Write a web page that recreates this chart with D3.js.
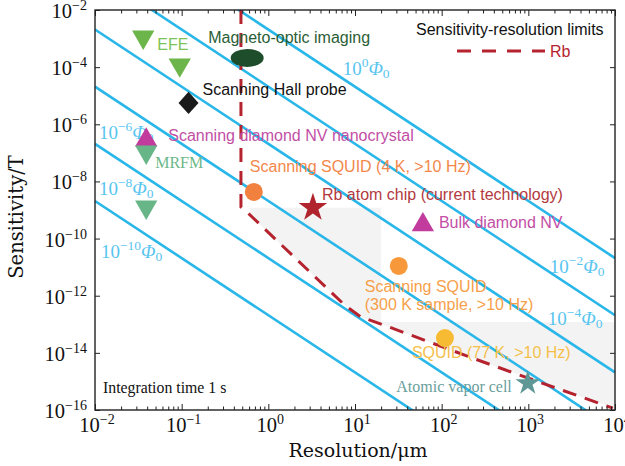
<!DOCTYPE html>
<html>
<head>
<meta charset="utf-8">
<script src="https://cdn.jsdelivr.net/npm/d3@7"></script>
<style>
body { margin: 0; background: #fff; }
</style>
</head>
<body>
<div id="chart"></div>
<script>
// ---- data ----
var xExps = [-2, -1, 0, 1, 2, 3, 4];
var yExps = [-2, -4, -6, -8, -10, -12, -14, -16];
var fluxExps = [0, -2, -4, -6, -8, -10];
var phi0 = 2.07e-3; // flux quantum in T*um^2

// where the flux labels sit (resolution, sensitivity)
var fluxLabelR = [7.2, 1770, 1680, 0.0111, 0.0111, 0.0117];
var fluxLabelB = [5.3e-5, 6.3e-12, 9.3e-14, 3.1e-7, 3.35e-9, 2.1e-11];

// Rb sensitivity-resolution limit
var rbR = [0.483, 0.483, 0.614, 7.6, 11.7, 21.5, 242, 2075, 9440];
var rbB = [1e-2, 1.27e-9, 6.7e-10, 4.7e-13, 1.8e-13, 9.4e-14, 6.1e-15, 5.9e-16, 1.17e-16];

// upper edge of the grey region
var shadeR = [0.61, 20, 20, 1e4, 1e4];
var shadeB = [1.2e-9, 1.2e-9, 1.2e-13, 1.2e-13, 1.05e-16];

// techniques
var techR = [0.036, 0.095, 0.57, 0.12, 0.039, 0.039, 0.039, 0.68, 3.27, 60.7, 32, 109, 986];
var techB = [1.13e-3, 1.2e-4, 2.1e-4, 5.6e-6, 2.8e-7, 1.07e-7, 1.27e-9, 4.3e-9, 1.2e-9, 3e-10, 1.1e-11, 3.3e-14, 8.7e-16];
var techShape = ["down", "down", "ellipse", "diamond", "up", "down", "down", "circle", "star", "up", "circle", "circle", "star"];
var techColor = ["#6cb54a", "#6cb54a", "#1e4d2b", "#1a1a1a", "#c13c9c", "#68b688", "#68b688",
                 "#f28140", "#b0242d", "#c13c9c", "#f7993b", "#f7bb33", "#5e9796"];

var labelText = ["EFE", "Magneto-optic imaging", "Scanning Hall probe", "Scanning diamond NV nanocrystal",
                 "MRFM", "Scanning SQUID (4 K, >10 Hz)", "Rb atom chip (current technology)", "Bulk diamond NV",
                 "Scanning SQUID", "(300 K sample, >10 Hz)", "SQUID (77 K, >10 Hz)", "Atomic vapor cell"];
var labelOf = [0, 2, 3, 4, 5, 7, 8, 9, 10, 10, 11, 12];   // which marker the label hangs from
var labelDx = [14, -39, 14, 22, 9, -4, 9, 16, -34, -34, -33, -16];
var labelDy = [13, -15, -8, 1, 16, -20, -8, 3, 26, 44, 20, 9];
var labelColor = ["#7cc257", "#2b5e36", "#111", "#c24fa5", "#6cb88a", "#f3884b", "#b23a3f", "#c24fa5",
                  "#f69f4a", "#f69f4a", "#f5c04a", "#6a9e9c"];
var labelSerif = [0, 0, 0, 0, 1, 0, 0, 0, 0, 0, 0, 1];

// ---- chart ----
var width = 625, height = 466;
var plotL = 95, plotR = 615, plotT = 10, plotB = 410;

var svg = d3.select("#chart").append("svg")
    .attr("width", width)
    .attr("height", height);

var x = d3.scaleLog().domain([1e-2, 1e4]).range([plotL, plotR]);
var y = d3.scaleLog().domain([1e-16, 1e-2]).range([plotB, plotT]);

svg.append("clipPath").attr("id", "plot-clip")
  .append("rect")
    .attr("x", plotL).attr("y", plotT)
    .attr("width", plotR - plotL).attr("height", plotB - plotT);

var plot = svg.append("g").attr("clip-path", "url(#plot-clip)");

var line = d3.line()
    .x(function(d) { return x(d[0]); })
    .y(function(d) { return y(d[1]); });

// grey region: upper edge, then back along the Rb curve
var shadePts = d3.zip(shadeR, shadeB);
var rbPts = d3.zip(rbR, rbB);
var back = rbPts.slice(2).reverse();
plot.append("path")
    .attr("d", line(shadePts.concat(back)) + "Z")
    .attr("fill", "#f3f3f3");

// constant-flux lines  B = n*phi0 / r^2
plot.selectAll(".flux")
    .data(fluxExps)
    .enter().append("path")
    .attr("class", "flux")
    .attr("d", function(e) {
        var n = Math.pow(10, e);
        return line([[1e-2, n * phi0 / 1e-4], [1e4, n * phi0 / 1e8]]);
    })
    .attr("fill", "none")
    .attr("stroke", "#29b6e8")
    .attr("stroke-width", 2.6);

// Rb limit
plot.append("path")
    .attr("d", line(rbPts))
    .attr("fill", "none")
    .attr("stroke", "#b5232e")
    .attr("stroke-width", 3)
    .attr("stroke-dasharray", "14,9");

// flux labels
var fl = svg.selectAll(".fluxlabel")
    .data(fluxExps)
    .enter().append("text")
    .attr("class", "fluxlabel")
    .attr("x", function(d, i) { return x(fluxLabelR[i]); })
    .attr("y", function(d, i) { return y(fluxLabelB[i]); })
    .attr("fill", "#58c5ef")
    .attr("font-family", "Liberation Serif, serif")
    .attr("font-size", 19);
fl.append("tspan").text("10");
fl.append("tspan").attr("dy", -8).attr("font-size", 13.5)
    .text(function(e) { return e < 0 ? "\u2212" + (-e) : e; });
fl.append("tspan").attr("dy", 8).attr("font-style", "italic").text("\u03A6");
fl.append("tspan").attr("dy", 3).attr("font-size", 13.5).text("0");

// markers
var sym = d3.symbol();
var marks = svg.selectAll(".mark")
    .data(techR)
    .enter().append("g")
    .attr("class", "mark")
    .attr("transform", function(d, i) { return "translate(" + x(techR[i]) + "," + y(techB[i]) + ")"; });

marks.each(function(d, i) {
    var g = d3.select(this);
    var s = techShape[i];
    var c = techColor[i];
    if (s === "circle") {
        g.append("circle").attr("r", 9).attr("fill", c);
    } else if (s === "ellipse") {
        g.append("ellipse").attr("rx", 16.5).attr("ry", 9).attr("fill", c);
    } else if (s === "star") {
        var R = i === 8 ? 15 : 13;
        g.append("path").attr("d", sym.type(d3.symbolStar).size(R * R / 0.8908)()).attr("fill", c);
    } else if (s === "diamond") {
        g.append("path").attr("d", sym.type(d3.symbolSquare).size(200)())
            .attr("transform", "scale(1,1.12) rotate(45)").attr("fill", c);
    } else {
        g.append("path").attr("d", sym.type(d3.symbolTriangle).size(215)())
            .attr("transform", s === "down" ? "rotate(180)" : null)
            .attr("fill", c);
    }
});

// marker labels
svg.selectAll(".tlabel")
    .data(labelText)
    .enter().append("text")
    .attr("class", "tlabel")
    .attr("x", function(d, i) { return x(techR[labelOf[i]]) + labelDx[i]; })
    .attr("y", function(d, i) { return y(techB[labelOf[i]]) + labelDy[i]; })
    .attr("text-anchor", function(d, i) { return i === 11 ? "end" : "start"; })
    .attr("fill", function(d, i) { return labelColor[i]; })
    .attr("font-family", function(d, i) { return labelSerif[i] ? "Liberation Serif, serif" : "Liberation Sans, Arial, sans-serif"; })
    .attr("font-size", 16)
    .text(function(d) { return d; });

svg.append("text")
    .attr("x", 103).attr("y", 393)
    .attr("font-family", "Liberation Serif, serif")
    .attr("font-size", 15.8)
    .attr("fill", "#111")
    .text("Integration time 1 s");

// legend
svg.append("text")
    .attr("x", 416).attr("y", 35)
    .attr("font-family", "Liberation Sans, Arial, sans-serif")
    .attr("font-size", 16)
    .attr("fill", "#111")
    .text("Sensitivity-resolution limits");
svg.append("line")
    .attr("x1", 457).attr("x2", 545).attr("y1", 51).attr("y2", 51)
    .attr("stroke", "#b5232e").attr("stroke-width", 3)
    .attr("stroke-dasharray", "14,11");
svg.append("text")
    .attr("x", 550).attr("y", 57)
    .attr("font-family", "Liberation Sans, Arial, sans-serif")
    .attr("font-size", 16)
    .attr("fill", "#b5232e")
    .text("Rb");

// ---- axes ----
var xMajor = xExps.map(function(e) { return Math.pow(10, e); });
var xMinor = [];
xExps.slice(0, -1).forEach(function(e) {
    d3.range(2, 10).forEach(function(k) { xMinor.push(k * Math.pow(10, e)); });
});
var yMajor = yExps.map(function(e) { return Math.pow(10, e); });

function styleAxis(g) {
    g.select(".domain").remove();
    g.selectAll("line").attr("stroke", "#222").attr("stroke-width", 1);
}

svg.append("g").attr("transform", "translate(0," + plotB + ")")
    .call(d3.axisBottom(x).tickValues(xMajor).tickSize(-6).tickFormat("")).call(styleAxis);
svg.append("g").attr("transform", "translate(0," + plotB + ")")
    .call(d3.axisBottom(x).tickValues(xMinor).tickSize(-3.5).tickFormat("")).call(styleAxis);
svg.append("g").attr("transform", "translate(0," + plotT + ")")
    .call(d3.axisTop(x).tickValues(xMajor).tickSize(-6).tickFormat("")).call(styleAxis);
svg.append("g").attr("transform", "translate(0," + plotT + ")")
    .call(d3.axisTop(x).tickValues(xMinor).tickSize(-3.5).tickFormat("")).call(styleAxis);
svg.append("g").attr("transform", "translate(" + plotL + ",0)")
    .call(d3.axisLeft(y).tickValues(yMajor).tickSize(-5).tickFormat("")).call(styleAxis);
svg.append("g").attr("transform", "translate(" + plotR + ",0)")
    .call(d3.axisRight(y).tickValues(yMajor).tickSize(-5).tickFormat("")).call(styleAxis);

svg.append("rect")
    .attr("x", plotL).attr("y", plotT)
    .attr("width", plotR - plotL).attr("height", plotB - plotT)
    .attr("fill", "none")
    .attr("stroke", "#222")
    .attr("stroke-width", 1.4);

function powLabel(sel) {
    sel.append("tspan").text("10");
    sel.append("tspan").attr("dy", -8).attr("font-size", 14)
        .text(function(e) { return e < 0 ? "\u2212" + (-e) : e; });
}

svg.selectAll(".xtl")
    .data(xExps)
    .enter().append("text")
    .attr("class", "xtl")
    .attr("x", function(e) { return x(Math.pow(10, e)) + 2; })
    .attr("y", 432)
    .attr("text-anchor", "middle")
    .attr("font-family", "Liberation Serif, serif")
    .attr("font-size", 20.5)
    .attr("fill", "#111")
    .call(powLabel);

svg.selectAll(".ytl")
    .data(yExps)
    .enter().append("text")
    .attr("class", "ytl")
    .attr("x", 87)
    .attr("y", function(e) { return y(Math.pow(10, e)) + 8; })
    .attr("text-anchor", "end")
    .attr("font-family", "Liberation Serif, serif")
    .attr("font-size", 20.5)
    .attr("fill", "#111")
    .call(powLabel);

svg.append("text")
    .attr("x", 358).attr("y", 457)
    .attr("text-anchor", "middle")
    .attr("font-family", "DejaVu Serif, serif")
    .attr("font-size", 19)
    .attr("fill", "#111")
    .text("Resolution/\u03BCm");

svg.append("text")
    .attr("transform", "translate(23,217) rotate(-90)")
    .attr("text-anchor", "middle")
    .attr("font-family", "DejaVu Serif, serif")
    .attr("font-size", 19.5)
    .attr("fill", "#111")
    .text("Sensitivity/T");
</script>
</body>
</html>
